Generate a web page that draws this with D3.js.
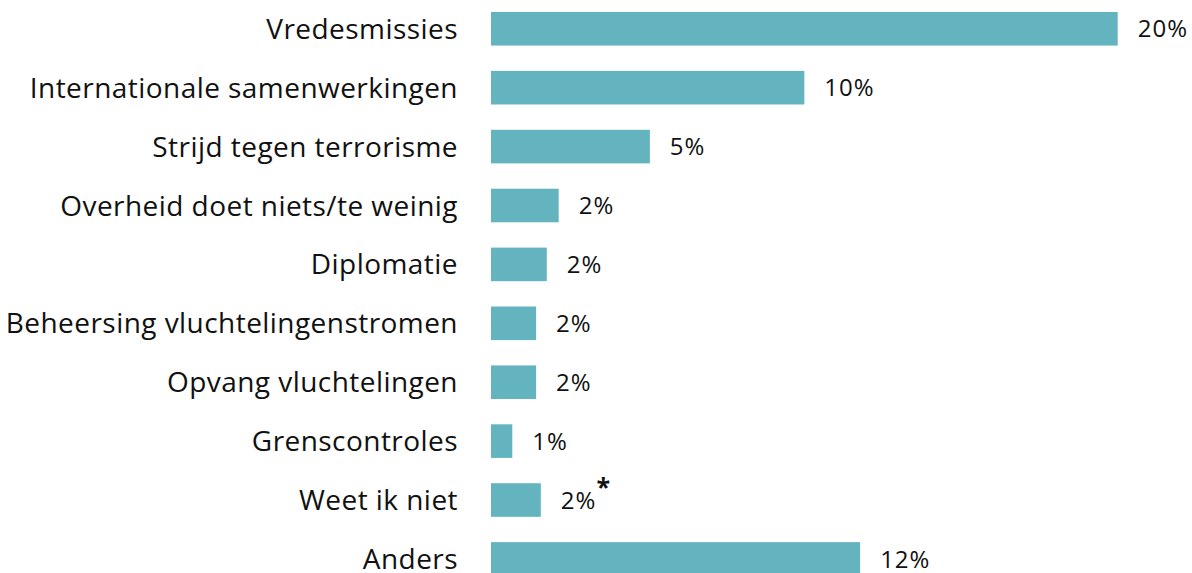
<!DOCTYPE html>
<html>
<head>
<meta charset="utf-8">
<script src="https://cdn.jsdelivr.net/npm/d3@7"></script>
<style>
  body { margin: 0; background: #fff; }
  text { font-family: "Open Sans", Lato, sans-serif; fill: #111; }
</style>
</head>
<body>
<svg id="chart" width="1192" height="573"></svg>
<script>
// categories and values (percentages)
const categories = [
  "Vredesmissies",
  "Internationale samenwerkingen",
  "Strijd tegen terrorisme",
  "Overheid doet niets/te weinig",
  "Diplomatie",
  "Beheersing vluchtelingenstromen",
  "Opvang vluchtelingen",
  "Grenscontroles",
  "Weet ik niet",
  "Anders"
];
const values = [20, 10, 5.07, 2.16, 1.78, 1.44, 1.44, 0.68, 1.59, 11.78];
const valueLabels = ["20%", "10%", "5%", "2%", "2%", "2%", "2%", "1%", "2%", "12%"];
const footnoteRow = "Weet ik niet";

const svg = d3.select("#chart");

let xScale = d3.scaleLinear()
  .domain([0, 20])
  .range([491, 1117.7]);

let yScale = d3.scaleBand()
  .domain(categories)
  .range([12, 575.7])
  .paddingInner(0.43)
  .paddingOuter(0);

// bars
svg.append("g")
  .selectAll("rect")
  .data(values)
  .enter()
  .append("rect")
  .attr("x", xScale(0))
  .attr("y", (d, i) => yScale(categories[i]))
  .attr("width", d => xScale(d) - xScale(0))
  .attr("height", yScale.bandwidth())
  .attr("fill", "#63b4be");

// category labels
svg.append("g")
  .selectAll("text")
  .data(categories)
  .enter()
  .append("text")
  .attr("x", xScale(0) - 33)
  .attr("y", d => yScale(d) + yScale.bandwidth() / 2)
  .attr("dy", "0.36em")
  .attr("text-anchor", "end")
  .style("font-size", "28px")
  .style("letter-spacing", "0.45px")
  .text(d => d);

// value labels
let vl = svg.append("g")
  .selectAll("text")
  .data(values)
  .enter()
  .append("text")
  .attr("x", d => xScale(d) + 20)
  .attr("y", (d, i) => yScale(categories[i]) + yScale.bandwidth() / 2)
  .attr("dy", "0.36em")
  .style("font-size", "24px")
  .style("letter-spacing", "1px")
  .text((d, i) => valueLabels[i]);

vl.filter((d, i) => categories[i] === footnoteRow)
  .append("tspan")
  .attr("dx", "0")
  .attr("dy", "-0.5em")
  .style("font-weight", "bold")
  .style("font-size", "25px")
  .text("*");
</script>
</body>
</html>
